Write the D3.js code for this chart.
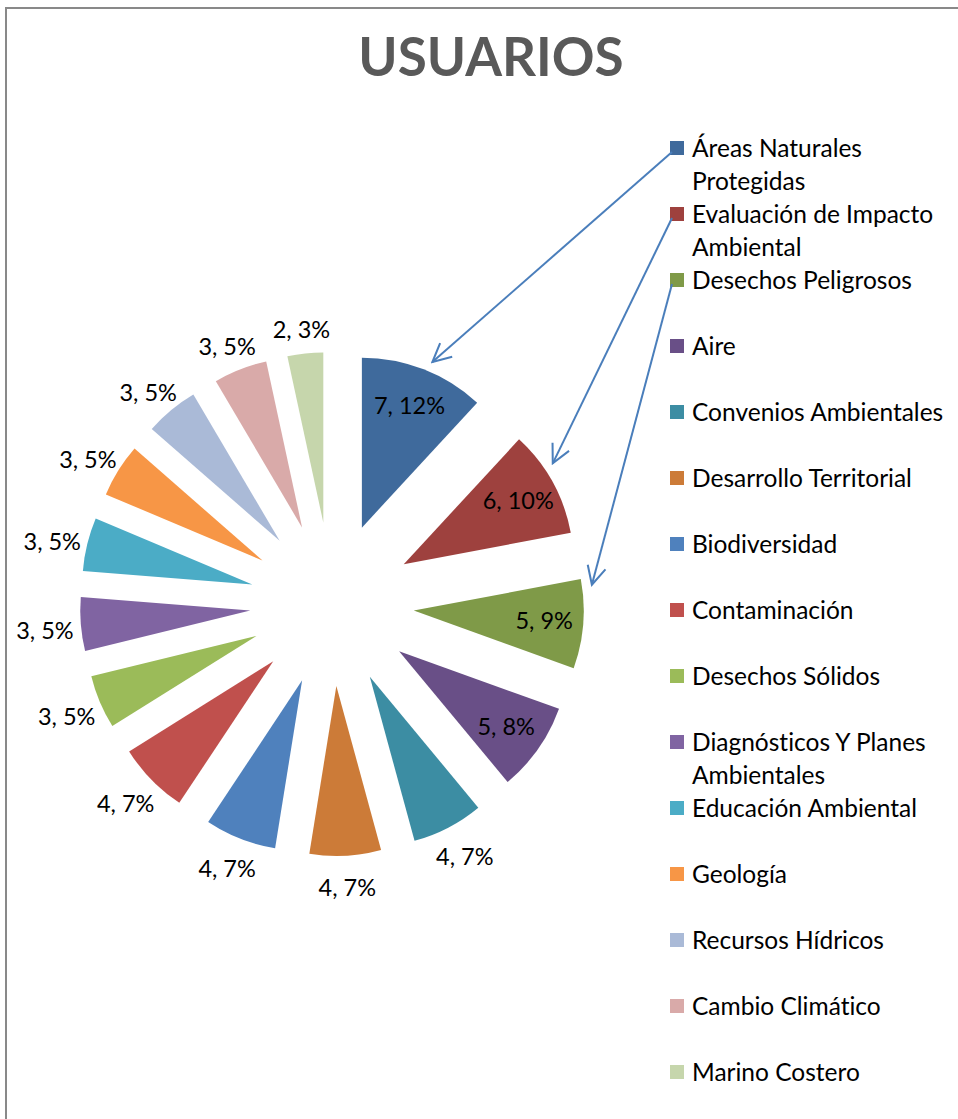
<!DOCTYPE html>
<html>
<head>
<meta charset="utf-8">
<script src="https://cdn.jsdelivr.net/npm/d3@7"></script>
<style>
  body { margin: 0; background: #fff; }
  text { font-family: Lato, "Open Sans", sans-serif; font-variant-ligatures: none; }
</style>
</head>
<body>
<div id="chart"></div>
<script>
let w = 958,
    h = 1119;

// data
let categories = ["Áreas Naturales Protegidas", "Evaluación de Impacto Ambiental", "Desechos Peligrosos",
  "Aire", "Convenios Ambientales", "Desarrollo Territorial", "Biodiversidad", "Contaminación",
  "Desechos Sólidos", "Diagnósticos Y Planes Ambientales", "Educación Ambiental", "Geología",
  "Recursos Hídricos", "Cambio Climático", "Marino Costero"];
let values = [7, 6, 5, 5, 4, 4, 4, 4, 3, 3, 3, 3, 3, 3, 2];
let pctLabels = ["12%", "10%", "9%", "8%", "7%", "7%", "7%", "7%", "5%", "5%", "5%", "5%", "5%", "5%", "3%"];
let colors = ["#3F6A9C", "#9E413E", "#7F9A48", "#694F87", "#3C8DA3", "#CC7B38", "#4F81BD", "#C0504D",
  "#9BBB59", "#8064A2", "#4BACC6", "#F79646", "#AABAD7", "#D9AAA9", "#C6D6AC"];
// arrows: legend item -> slice, end point as fraction across the slice
let arrowFrom = [0, 1, 2];
let arrowAt = [0.54, 0.36, 0.08];

let cx = 332, cy = 604, r = 170, explode = 82;

let svg = d3.select("#chart")
            .append("svg")
            .attr("width", w)
            .attr("height", h);

// frame
svg.append("rect")
   .attr("x", 6).attr("y", 8)
   .attr("width", 980).attr("height", 1130)
   .attr("fill", "none")
   .attr("stroke", "#898989")
   .attr("stroke-width", 2);

svg.append("text")
   .attr("x", 491)
   .attr("y", 76)
   .attr("text-anchor", "middle")
   .style("font-size", "53px")
   .style("font-weight", "bold")
   .style("fill", "#595959")
   .text("USUARIOS");

let pie = d3.pie().sort(null).value(d => d);
let arcs = pie(values);
let arc = d3.arc().innerRadius(0).outerRadius(r);

let mid = d => (d.startAngle + d.endAngle) / 2;
let apex = (d, dist) => [cx + dist * Math.sin(mid(d)), cy - dist * Math.cos(mid(d))];

let g = svg.append("g");

g.selectAll(".slice")
  .data(arcs)
  .enter()
  .append("path")
  .attr("class", "slice")
  .attr("d", arc)
  .attr("transform", d => {
    let p = apex(d, explode);
    return "translate(" + p[0] + "," + p[1] + ")";
  })
  .style("fill", (d, i) => colors[i]);

// data labels: big slices inside, small ones just outside the arc
let labelPos = d => {
  let a = mid(d);
  if (d.value >= 5) return apex(d, explode + r * 0.77);
  let p = apex(d, explode + r);
  return [p[0] + 36 * Math.sin(a), p[1] - 28 * Math.cos(a) + 4];
};

g.selectAll(".lbl")
  .data(arcs)
  .enter()
  .append("text")
  .attr("class", "lbl")
  .attr("x", d => labelPos(d)[0])
  .attr("y", d => labelPos(d)[1])
  .attr("text-anchor", "middle")
  .attr("dy", "0.35em")
  .style("font-size", "23.5px")
  .style("fill", "#000")
  .text((d, i) => d.value + ", " + pctLabels[i]);

// legend
let legendX = 670, legendY = 148, step = 66, lineH = 33;
let legend = svg.append("g");

categories.forEach((c, i) => {
  let y = legendY + i * step;
  legend.append("rect")
    .attr("x", legendX).attr("y", y - 7)
    .attr("width", 14).attr("height", 14)
    .style("fill", colors[i]);
  let t = legend.append("text")
    .style("font-size", "24.5px")
    .style("fill", "#000");
  // wrap long names
  let words = c.split(" "), line = [], n = 0;
  let ts = t.append("tspan").attr("x", legendX + 22).attr("y", y).attr("dy", "0.35em");
  words.forEach(wd => {
    line.push(wd);
    ts.text(line.join(" "));
    if (ts.node().getComputedTextLength() > 268 && line.length > 1) {
      line.pop();
      ts.text(line.join(" "));
      line = [wd];
      n++;
      ts = t.append("tspan").attr("x", legendX + 22).attr("y", y + n * lineH).attr("dy", "0.35em").text(wd);
    }
  });
});

// arrows
svg.append("defs").append("marker")
   .attr("id", "head")
   .attr("viewBox", "0 0 12 12")
   .attr("refX", 11).attr("refY", 6)
   .attr("markerWidth", 22).attr("markerHeight", 22)
   .attr("markerUnits", "userSpaceOnUse")
   .attr("orient", "auto")
   .append("path")
   .attr("d", "M1,1 L11,6 L1,11")
   .attr("fill", "none")
   .attr("stroke", "#4A7EBB")
   .attr("stroke-width", 1.1);

arrowFrom.forEach((li, k) => {
  let d = arcs[li];
  let a = d.startAngle + (d.endAngle - d.startAngle) * arrowAt[k];
  let o = apex(d, explode);
  let ex = o[0] + (r + 10) * Math.sin(a),
      ey = o[1] - (r + 10) * Math.cos(a);
  svg.append("line")
    .attr("x1", legendX + 2).attr("y1", legendY + li * step + 4)
    .attr("x2", ex).attr("y2", ey)
    .attr("stroke", "#4A7EBB")
    .attr("stroke-width", 2)
    .attr("marker-end", "url(#head)");
});
</script>
</body>
</html>
